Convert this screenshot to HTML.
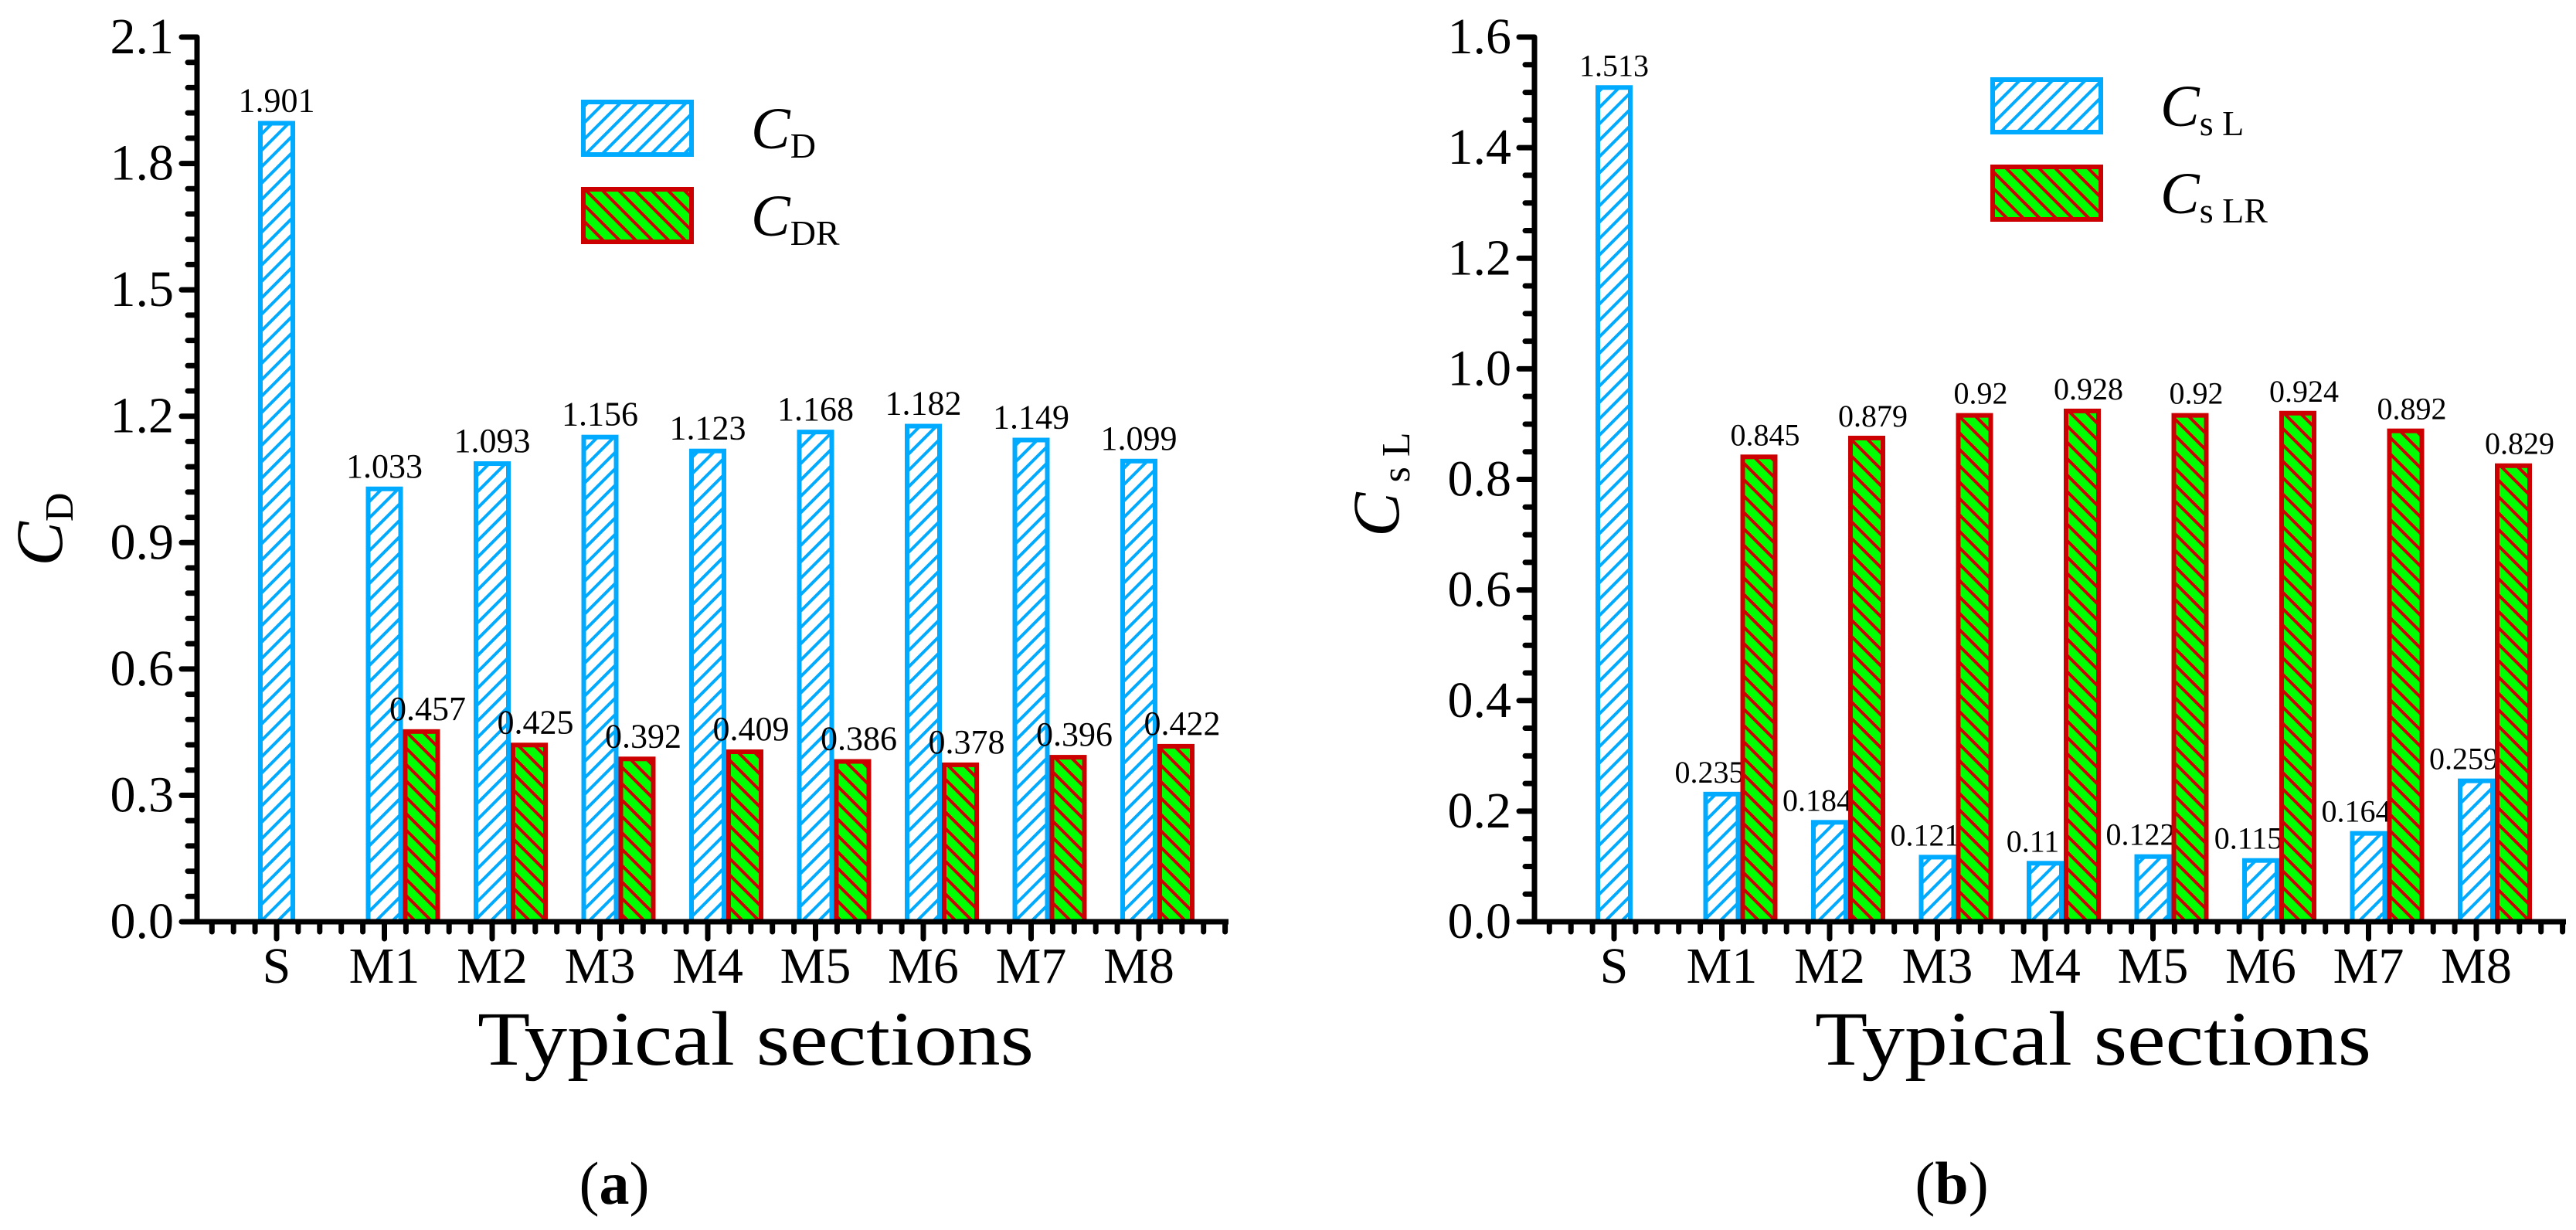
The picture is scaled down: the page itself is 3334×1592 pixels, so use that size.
<!DOCTYPE html>
<html><head><meta charset="utf-8">
<style>
html,body{margin:0;padding:0;background:#fff;}
svg{display:block;font-family:"Liberation Serif","DejaVu Serif",serif;}
</style></head>
<body>
<svg id="fig" width="3334" height="1592" viewBox="0 0 3334 1592" xmlns="http://www.w3.org/2000/svg" font-family="Liberation Serif, DejaVu Serif, serif">
<defs>
<pattern id="hatchBlue" patternUnits="userSpaceOnUse" width="15" height="15" patternTransform="rotate(45)">
<rect width="15" height="15" fill="#fff"/>
<line x1="0" y1="0" x2="0" y2="15" stroke="#00aaff" stroke-width="8"/>
</pattern>
<pattern id="hatchRed" patternUnits="userSpaceOnUse" width="15" height="15" patternTransform="rotate(-45)">
<rect width="15" height="15" fill="#00ff00"/>
<line x1="0" y1="0" x2="0" y2="15" stroke="#cc0000" stroke-width="8"/>
</pattern>
</defs>
<g id="chartA"></g>
<g id="chartB"></g>
</svg>
<script>
// ---- data ----
const categories = ["S","M1","M2","M3","M4","M5","M6","M7","M8"];
const cdValues  = [1.901,1.033,1.093,1.156,1.123,1.168,1.182,1.149,1.099];
const cdrValues = [null,0.457,0.425,0.392,0.409,0.386,0.378,0.396,0.422];
const cslValues  = [1.513,0.235,0.184,0.121,0.11,0.122,0.115,0.164,0.259];
const cslrValues = [null,0.845,0.879,0.92,0.928,0.92,0.924,0.892,0.829];
const cdLabels  = ["1.901","1.033","1.093","1.156","1.123","1.168","1.182","1.149","1.099"];
const cdrLabels = ["","0.457","0.425","0.392","0.409","0.386","0.378","0.396","0.422"];
const cslLabels  = ["1.513","0.235","0.184","0.121","0.11","0.122","0.115","0.164","0.259"];
const cslrLabels = ["","0.845","0.879","0.92","0.928","0.92","0.924","0.892","0.829"];
const yTicksA = ["0.0","0.3","0.6","0.9","1.2","1.5","1.8","2.1"];
const yTicksB = ["0.0","0.2","0.4","0.6","0.8","1.0","1.2","1.4","1.6"];

const NS="http://www.w3.org/2000/svg";
function mk(parent,tag,attrs,text){
  const e=document.createElementNS(NS,tag);
  for(const k in attrs) e.setAttribute(k,attrs[k]);
  if(text!==undefined) e.textContent=text;
  parent.appendChild(e); return e;
}

function drawChart(g, cfg){
  const x0=cfg.axisX, yZero=1193, yTop=48, xEnd=x0+1335;
  const step=139.5, firstTick=x0+103;
  const ymax=cfg.ymax;
  const yS=v=>yZero-(v/ymax)*(yZero-yTop);
  const xS=i=>firstTick+i*step;
  const bw=48;
  for(let i=0;i<categories.length;i++){
    const cx=xS(i);
    const v1=cfg.s1[i];
    if(v1!==null){
      const r=mk(g,'rect',{x:cx-bw/2+3,y:yS(v1)+3,width:bw-6,height:yZero-yS(v1)-3,fill:'url(#hatchBlue)',stroke:'#00aaff','stroke-width':6});
      
      
      const t=mk(g,'text',{x:cx+cfg.lab1dx(i),y:yS(v1)-12,'font-size':cfg.labFs,'text-anchor':'middle'},cfg.l1[i]);
      
      
    }
    const v2=cfg.s2[i];
    if(v2!==null){
      const r=mk(g,'rect',{x:cx+bw/2+3,y:yS(v2)+3,width:bw-6,height:yZero-yS(v2)-3,fill:'url(#hatchRed)',stroke:'#cc0000','stroke-width':6});
      
      
      const t=mk(g,'text',{x:cx+bw+8,y:yS(v2)-12,'font-size':cfg.labFs,'text-anchor':'middle'},cfg.l2[i]);
      
      
    }
  }
  const ax=mk(g,'path',{d:`M${x0} ${yTop} V${yZero} H${xEnd}`,fill:'none',stroke:'#000','stroke-width':7});
  
  
  const nMaj=cfg.yt.length-1, per=cfg.minorPer;
  for(let j=0;j<=nMaj;j++){
    const v=j*ymax/nMaj, y=yS(v);
    mk(g,'line',{x1:x0-20,y1:y,x2:x0,y2:y,stroke:'#000','stroke-width':7,'stroke-linecap':'round'});
    const t=mk(g,'text',{x:x0-30,y:y+21,'font-size':66,'text-anchor':'end'},cfg.yt[j]);
    
    
    if(j<nMaj){
      for(let m=1;m<=per;m++){
        const ym=yS(v+m*(ymax/nMaj)/(per+1));
        mk(g,'line',{x1:x0-12,y1:ym,x2:x0,y2:ym,stroke:'#000','stroke-width':7,'stroke-linecap':'round'});
      }
    }
  }
  for(let k=-3;k<=categories.length*5-1;k++){
    const x=firstTick+k*step/5;
    if(x<=x0+8||x>xEnd) continue;
    const major=(k%5===0)&&k>=0;
    mk(g,'line',{x1:x,y1:yZero,x2:x,y2:yZero+(major?22:13),stroke:'#000','stroke-width':7,'stroke-linecap':'round'});
  }
  for(let i=0;i<categories.length;i++){
    const t=mk(g,'text',{x:xS(i),y:1272,'font-size':66,'text-anchor':'middle'},categories[i]);
    
    
  }
  const xt=mk(g,'text',{x:x0+723,y:1378,'font-size':100,'text-anchor':'middle',textLength:720,lengthAdjust:'spacingAndGlyphs'},'Typical sections');
  
  
  const yt=mk(g,'text',{x:0,y:0,'font-size':86,'text-anchor':'middle',transform:`translate(${cfg.ytX},${cfg.ytY}) rotate(-90)`});
  
  
  mk(yt,'tspan',{'font-style':'italic'},'C');
  mk(yt,'tspan',{'font-size':52,dy:14},cfg.ytSub);
  const lg=mk(g,'g',{});
  
  
  const lx=cfg.legX, ly=cfg.legY;
  mk(lg,'rect',{x:lx+3,y:ly+3,width:140,height:68,fill:'url(#hatchBlue)',stroke:'#00aaff','stroke-width':6});
  mk(lg,'rect',{x:lx+3,y:ly+116,width:140,height:68,fill:'url(#hatchRed)',stroke:'#cc0000','stroke-width':6});
  const e1=mk(lg,'text',{x:lx+220,y:ly+63,'font-size':76});
  
  
  mk(e1,'tspan',{'font-style':'italic'},'C');
  mk(e1,'tspan',{'font-size':46,dy:12},cfg.leg1);
  const e2=mk(lg,'text',{x:lx+220,y:ly+176,'font-size':76});
  
  
  mk(e2,'tspan',{'font-style':'italic'},'C');
  mk(e2,'tspan',{'font-size':46,dy:12},cfg.leg2);
  const cap=mk(g,'text',{x:x0+540,y:1558,'font-size':78,'text-anchor':'middle'});
  
  
  mk(cap,'tspan',{},'(');
  mk(cap,'tspan',{'font-weight':'bold'},cfg.cap);
  mk(cap,'tspan',{},')');
}

drawChart(document.getElementById('chartA'),{
  axisX:255, ymax:2.1, yt:yTicksA, minorPer:4,
  s1:cdValues, s2:cdrValues, l1:cdLabels, l2:cdrLabels,
  name1:'cd', name2:'cdr', labFs:44, lab1dx:i=>0,
  ytX:80, ytY:685, ytSub:'D',
  legX:752, legY:129, leg1:'D', leg2:'DR', cap:'a'
});
drawChart(document.getElementById('chartB'),{
  axisX:1986, ymax:1.6, yt:yTicksB, minorPer:3,
  s1:cslValues, s2:cslrValues, l1:cslLabels, l2:cslrLabels,
  name1:'csl', name2:'cslr', labFs:40, lab1dx:i=>i===0?0:-16,
  ytX:1810, ytY:627, ytSub:' s L',
  legX:2576, legY:100, leg1:'s L', leg2:'s LR', cap:'b'
});
</script>
</body></html>
